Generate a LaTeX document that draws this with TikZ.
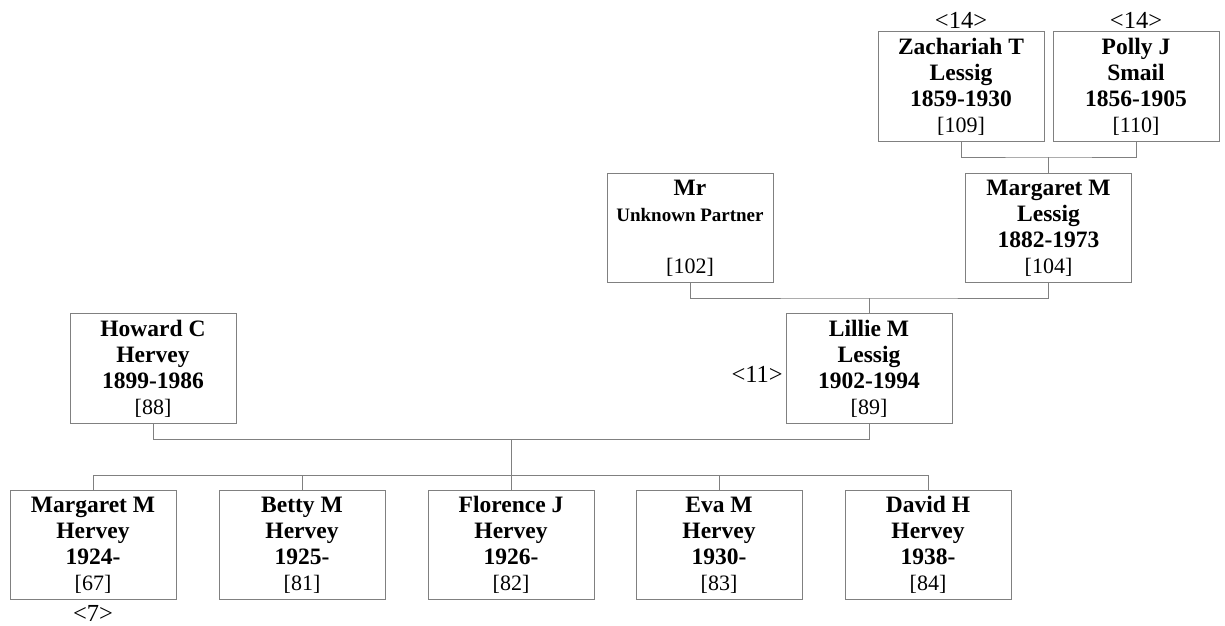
\documentclass[tikz,border=0pt]{standalone}
\usepackage{fontspec}
\setmainfont{Liberation Serif}
\newcommand{\idno}[1]{{\fontsize{22}{26}\selectfont[#1]}}
\begin{document}
\begin{tikzpicture}[x=1pt,y=-1pt,
  person/.style={draw=linegray, line width=1pt, minimum width=166pt, minimum height=109.5pt,
    inner sep=0pt, align=center, font=\fontsize{23.5}{26}\selectfont},
  tag/.style={inner sep=0pt, font=\fontsize{24.5}{26}\selectfont},
  link/.style={draw=linegray, line width=1pt}]
\definecolor{linegray}{RGB}{128,128,128}
\useasboundingbox (0,0) rectangle (1225,625);
% generation 1
\node[person] (zach) at (961,86.5) {\textbf{Zachariah T}\\\textbf{Lessig}\\\textbf{1859-1930}\\\idno{109}};
\node[person] (polly) at (1136,86.5) {\textbf{Polly J}\\\textbf{Smail}\\\textbf{1856-1905}\\\idno{110}};
\node[tag] (t14a) at (961,20) {<14>};
\node[tag] (t14b) at (1136,20) {<14>};
% generation 2
\node[person] (mr) at (690,228) {\textbf{Mr}\\{\fontsize{19}{26}\selectfont\textbf{Unknown Partner}}\\\\\idno{102}};
\node[person] (margl) at (1048.5,228) {\textbf{Margaret M}\\\textbf{Lessig}\\\textbf{1882-1973}\\\idno{104}};
% generation 3
\node[person] (howard) at (153,368.5) {\textbf{Howard C}\\\textbf{Hervey}\\\textbf{1899-1986}\\\idno{88}};
\node[person] (lillie) at (869,368.5) {\textbf{Lillie M}\\\textbf{Lessig}\\\textbf{1902-1994}\\\idno{89}};
\node[tag, anchor=east] (t11) at (783,374) {<11>};
% generation 4
\node[person] (margh) at (93,545) {\textbf{Margaret M}\\\textbf{Hervey}\\\textbf{1924-}\\\idno{67}};
\node[person] (betty) at (302,545) {\textbf{Betty M}\\\textbf{Hervey}\\\textbf{1925-}\\\idno{81}};
\node[person] (flo) at (511,545) {\textbf{Florence J}\\\textbf{Hervey}\\\textbf{1926-}\\\idno{82}};
\node[person] (eva) at (719,545) {\textbf{Eva M}\\\textbf{Hervey}\\\textbf{1930-}\\\idno{83}};
\node[person] (david) at (928,545) {\textbf{David H}\\\textbf{Hervey}\\\textbf{1938-}\\\idno{84}};
\node[tag] (t7) at (93,613) {<7>};
% couple lines
\coordinate (c1) at (1048.5,157);
\coordinate (c2) at (869,298);
\coordinate (c3) at (511,439);
\coordinate (c4) at (511,475);
\draw[link] (zach.south) |- (c1) -| (polly.south);
\draw[link] (c1) -- (margl.north);
\draw[link] (mr.south) |- (c2) -| (margl.south);
\draw[link] (c2) -- (lillie.north);
\draw[link] (howard.south) |- (c3) -| (lillie.south);
\draw[link] (c3) -- (c4);
\draw[link] (margh.north) |- (c4) -| (david.north);
\draw[link] (betty.north) -- (betty.north |- c4);
\draw[link] (flo.north) -- (flo.north |- c4);
\draw[link] (eva.north) -- (eva.north |- c4);
\end{tikzpicture}
\end{document}
